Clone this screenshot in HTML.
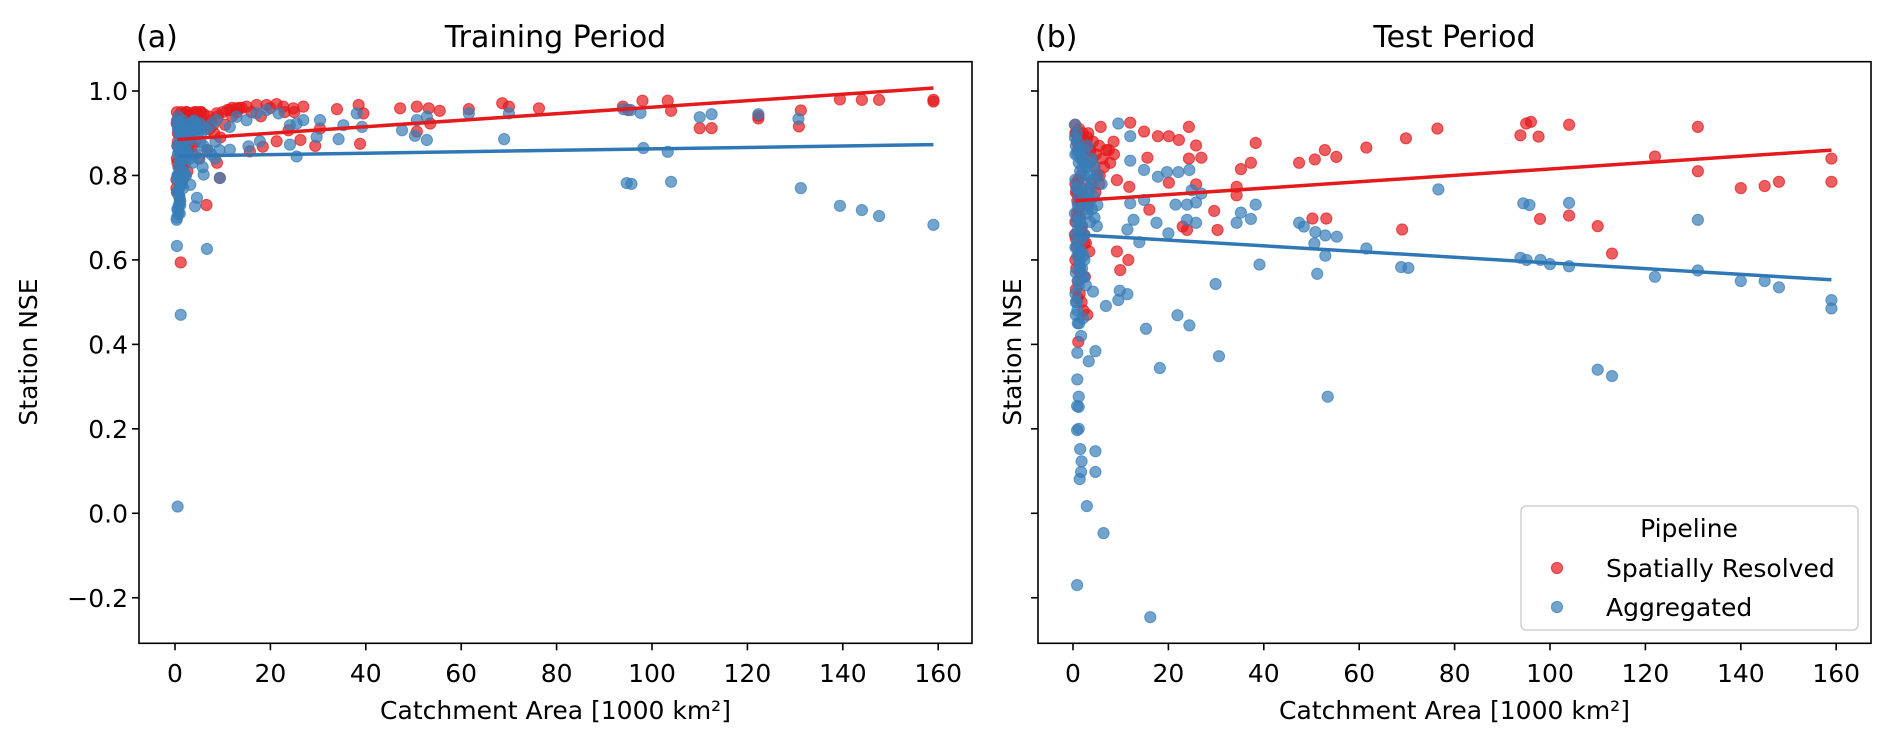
<!DOCTYPE html>
<html><head><meta charset="utf-8"><style>
html,body{margin:0;padding:0;background:#fff;}
svg{display:block;font-family:"DejaVu Sans","Liberation Sans",sans-serif;}
</style></head><body>
<svg id="fig" width="1892" height="742" viewBox="0 0 1892 742" xmlns="http://www.w3.org/2000/svg"></svg>
<script>
// ---- data (area in 1000 km², NSE) ----
const xTicks=[0,20,40,60,80,100,120,140,160];
const yTicks=[-0.2,0.0,0.2,0.4,0.6,0.8,1.0];
const yTickLabels=["\u22120.2","0.0","0.2","0.4","0.6","0.8","1.0"];
const trendX=[0.5,159];
const trainRedTrend=[0.885,1.007];
const trainBlueTrend=[0.846,0.873];
const testRedTrend=[0.74,0.86];
const testBlueTrend=[0.66,0.553];

const trainRedX=[159,159,147.6,144,139.4,131.2,130.8,122.3,122.3,112.5,110,104,103.3,98,93.9,95,76.3,70,68.6,61.6,55.5,53.2,50.7,47.2,38.5,33.95,26.9,24.8,22.7,21.3,19.2,17.1,15,12.9,11.5,8.75,5.25,3.85,1.75,0.35,38.8,29.4,18.4,21.3,30.4,15.7,9.4,6.6,39.5,50.7,53.5,23.8,26.3,1.2,0.5,0.8,1.0,1.5,2.0,2.5,3.0,3.5,4.0,4.5,5.0,5.5,6.0,0.6,1.2,1.8,2.2,2.8,3.3,0.4,0.9,1.4,2.1,3.6,4.2,0.7,1.1,1.6,2.4,0.3,0.6,7,7.5,8,9,10,11,12,13,14,
 0.4,0.7,1.0,1.3,1.7,2.3,2.9,3.4,4.1,4.8,5.6,6.3,7.2,8.2,9.5,10.5,12,13.5,16,18,20,23,25,0.5,1.1,1.9,2.7,3.8,5.1,6.8,8.8,0.3,0.8,1.5,2.6,0.4,0.9,1.6,0.5,1.2];
const trainRedY=[0.979,0.975,0.979,0.979,0.98,0.954,0.916,0.941,0.935,0.912,0.912,0.953,0.977,0.977,0.963,0.955,0.959,0.963,0.971,0.957,0.953,0.959,0.963,0.959,0.967,0.957,0.963,0.959,0.963,0.969,0.967,0.967,0.963,0.959,0.955,0.947,0.95,0.947,0.939,0.923,0.875,0.87,0.868,0.881,0.911,0.857,0.794,0.73,0.947,0.904,0.923,0.907,0.884,0.594,0.93,0.91,0.9,0.94,0.945,0.95,0.93,0.92,0.94,0.95,0.94,0.95,0.945,0.88,0.86,0.87,0.89,0.9,0.91,0.84,0.82,0.85,0.83,0.87,0.88,0.8,0.78,0.81,0.85,0.77,0.9,0.94,0.93,0.92,0.94,0.95,0.955,0.96,0.95,0.96,
 0.95,0.94,0.93,0.95,0.94,0.95,0.94,0.93,0.95,0.94,0.93,0.92,0.91,0.9,0.89,0.92,0.94,0.96,0.95,0.94,0.96,0.95,0.95,0.87,0.86,0.88,0.86,0.85,0.84,0.86,0.83,0.79,0.8,0.82,0.81,0.76,0.75,0.79,0.83,0.84];

const trainBlueX=[94,95.5,97.6,110,112.5,122.3,130.7,98.2,103.3,94.7,95.7,104,131.2,139.4,144,147.6,159,0.7,3.8,5.25,8.75,11.5,12.9,15,17.1,19.2,21.7,24.1,25.5,26.9,30.4,35.3,38.1,39.2,47.6,50.7,52.8,61.6,70,69,52.8,50.3,34.3,29.7,25.5,24.1,17.8,15.4,11.5,9.4,6,3.2,4.6,4.2,0.35,1,0.4,6.7,1.2,0.55,0.5,0.8,1.0,1.3,1.6,2.0,2.4,2.8,3.2,3.6,4.0,4.5,5.0,0.6,0.9,1.2,1.5,1.9,2.3,2.7,0.5,0.7,1.0,1.4,1.8,2.2,0.6,0.9,1.3,1.7,0.5,0.8,1.1,5.5,6.5,7.5,8.5,
 0.4,0.6,0.9,1.1,1.4,1.7,2.0,2.5,3.0,3.5,4.1,4.7,5.3,6.0,6.8,7.6,8.4,9.3,0.5,0.8,1.2,1.6,2.1,2.6,3.1,3.7,4.3,5.0,5.8,0.4,0.7,1.0,1.3,1.8,2.3,0.5,0.9,1.4,0.6,1.0,0.4,0.7,1.1];
const trainBlueY=[0.957,0.955,0.948,0.938,0.945,0.945,0.934,0.865,0.856,0.782,0.78,0.785,0.77,0.728,0.718,0.704,0.683,0.939,0.927,0.923,0.931,0.915,0.939,0.931,0.947,0.955,0.947,0.919,0.923,0.931,0.931,0.919,0.947,0.915,0.907,0.931,0.939,0.947,0.947,0.886,0.884,0.894,0.886,0.891,0.845,0.873,0.881,0.869,0.861,0.794,0.802,0.778,0.747,0.727,0.695,0.71,0.633,0.626,0.47,0.016,0.92,0.9,0.88,0.91,0.93,0.92,0.9,0.89,0.91,0.92,0.93,0.92,0.91,0.85,0.86,0.84,0.87,0.85,0.86,0.88,0.8,0.82,0.83,0.81,0.84,0.8,0.76,0.75,0.78,0.77,0.72,0.73,0.74,0.9,0.91,0.92,0.88,
 0.93,0.91,0.9,0.92,0.9,0.89,0.9,0.91,0.9,0.89,0.91,0.9,0.88,0.87,0.86,0.85,0.84,0.86,0.87,0.86,0.85,0.84,0.86,0.85,0.84,0.83,0.85,0.84,0.82,0.79,0.8,0.79,0.78,0.81,0.8,0.76,0.77,0.78,0.72,0.74,0.7,0.71,0.73];

const testRedX=[12,5.8,14.9,17.8,20.1,22.2,24.3,25.8,38.3,35.2,37.3,47.4,50.7,52.8,55.2,61.5,69.8,76.4,93.8,95,96,97.6,97.9,69,50.2,53.1,29.6,30.3,34.3,34.3,25.8,24.3,26.9,15.6,20.1,11.8,9.2,16,11.6,9.9,9.2,2.5,1.1,3,23,23.9,104,104,110,113,122,131,131,140,145,148,159,159,0.5,0.8,1.0,1.3,1.6,2.0,2.4,2.8,3.2,3.6,4.0,4.5,5.0,5.5,0.6,0.9,1.2,1.5,1.9,2.3,2.7,3.4,0.5,0.7,1.0,1.4,1.8,2.2,0.6,0.9,1.3,1.7,0.5,0.8,1.1,6.5,7.5,8.5,
 0.4,0.7,1.0,1.3,1.6,2.0,2.5,3.0,3.6,4.2,4.8,5.5,6.2,7.0,7.8,8.6,0.5,0.9,1.3,1.8,2.4,3.1,3.9,4.7,5.6,0.4,0.8,1.2,1.7,2.3,0.6,1.0,1.5];
const testRedY=[0.925,0.915,0.904,0.893,0.893,0.884,0.915,0.871,0.877,0.815,0.83,0.83,0.838,0.86,0.844,0.866,0.888,0.911,0.895,0.923,0.927,0.892,0.697,0.672,0.698,0.698,0.716,0.671,0.773,0.753,0.779,0.84,0.842,0.842,0.783,0.773,0.789,0.719,0.6,0.576,0.62,0.56,0.406,0.47,0.679,0.671,0.92,0.705,0.68,0.615,0.845,0.915,0.81,0.77,0.775,0.785,0.84,0.785,0.9,0.88,0.86,0.89,0.87,0.85,0.83,0.88,0.9,0.86,0.84,0.82,0.8,0.78,0.76,0.74,0.72,0.7,0.68,0.66,0.64,0.62,0.6,0.58,0.55,0.52,0.5,0.48,0.65,0.7,0.75,0.8,0.69,0.71,0.79,0.82,0.86,0.88,
 0.92,0.9,0.89,0.91,0.88,0.9,0.87,0.89,0.86,0.88,0.85,0.87,0.84,0.86,0.83,0.85,0.78,0.76,0.74,0.77,0.75,0.73,0.78,0.76,0.8,0.66,0.63,0.61,0.67,0.64,0.53,0.51,0.57];

const testBlueX=[9.5,12,12,14.9,17.8,19.7,22.1,24.4,24.9,26.9,25.8,23.9,21.5,12,14.9,12.7,17.5,11.4,13.9,20,23.9,25.8,34.3,35.2,37.3,38.3,39.1,47.4,48.4,50.6,50.8,52.9,52.9,55.3,51.2,61.5,68.8,70.3,76.6,94.4,95.7,93.8,95.1,98,29.9,30.6,24.4,21.9,15.3,18.2,53.4,6.9,9.5,9.8,11.4,4.2,4.7,3.3,0.9,0.9,1.2,1.2,1.2,2.1,0.86,0.86,1.5,4.7,1.8,1.7,4.7,1.4,2.9,6.4,0.86,16.2,104,110,113,122,131,131,140,145,148,159,159,100,104,0.5,0.8,1.0,1.3,1.6,2.0,2.4,2.8,3.2,3.6,4.0,4.5,5.0,0.6,0.9,1.2,1.5,1.9,2.3,2.7,0.5,0.7,1.0,1.4,1.8,2.2,0.6,0.9,1.3,1.7,3.0,3.5,4.2,
 0.4,0.6,0.9,1.2,1.5,1.9,2.3,2.8,3.3,3.9,4.5,5.2,6.0,0.5,0.8,1.1,1.5,2.0,2.5,3.1,3.7,4.4,5.1,0.4,0.7,1.0,1.4,1.9,2.4,3.0,3.6,0.5,0.9,1.3,1.8,2.4,0.6,1.0,1.5,2.1,0.5,0.8,1.2,0.6,1.0];
const testBlueY=[0.923,0.893,0.835,0.813,0.797,0.808,0.808,0.813,0.765,0.757,0.736,0.731,0.731,0.734,0.742,0.695,0.688,0.672,0.642,0.663,0.695,0.688,0.688,0.712,0.697,0.731,0.589,0.688,0.679,0.639,0.666,0.658,0.61,0.655,0.567,0.627,0.583,0.581,0.767,0.734,0.73,0.605,0.6,0.6,0.543,0.372,0.445,0.469,0.437,0.344,0.276,0.491,0.505,0.527,0.519,0.525,0.384,0.36,0.38,0.317,0.276,0.252,0.2,0.462,0.254,0.197,0.152,0.147,0.123,0.098,0.098,0.081,0.017,-0.047,-0.17,-0.246,0.735,0.34,0.325,0.56,0.695,0.575,0.55,0.55,0.535,0.505,0.485,0.59,0.585,0.92,0.9,0.88,0.86,0.84,0.82,0.8,0.78,0.76,0.74,0.72,0.7,0.68,0.66,0.64,0.62,0.6,0.58,0.56,0.54,0.85,0.77,0.73,0.69,0.65,0.61,0.5,0.48,0.45,0.42,0.87,0.83,0.79,
 0.89,0.87,0.85,0.83,0.81,0.84,0.86,0.82,0.8,0.84,0.82,0.8,0.78,0.79,0.77,0.75,0.73,0.76,0.74,0.72,0.77,0.75,0.73,0.71,0.69,0.67,0.7,0.68,0.66,0.71,0.69,0.63,0.61,0.59,0.62,0.6,0.57,0.55,0.58,0.56,0.52,0.5,0.54,0.47,0.45];

// ---- layout ----
const NS="http://www.w3.org/2000/svg";
const svg=document.getElementById('fig');
const Y0=513.3, YS=422.3, TOP=61.7, BOT=643.3;
function yPix(v){return Y0-v*YS;}
function mk(tag,attrs,parent){const e=document.createElementNS(NS,tag);for(const k in attrs)e.setAttribute(k,attrs[k]);(parent||svg).appendChild(e);return e;}
const RED="rgba(228,26,28,0.7)", BLUE="rgba(55,126,184,0.7)";

function panel(opt){
  const g=mk('g',{});
  
  
  const xPix=v=>opt.x0+v*4.77;
  const series=[[opt.rx,opt.ry,RED,'spatially-resolved'],[opt.bx,opt.by,BLUE,'aggregated']];
  for(const [xs,ys,col,nm] of series){
    const sg=mk('g',{},g);
    
    
    for(let i=0;i<xs.length;i++){
      const c=mk('circle',{cx:xPix(xs[i]),cy:yPix(ys[i]),r:5.6,fill:col,stroke:col,'stroke-width':1},sg);
      
      
    }
  }
  const l1=mk('line',{x1:xPix(trendX[0]),y1:yPix(opt.rt[0]),x2:xPix(trendX[1]),y2:yPix(opt.rt[1]),stroke:'#e41a1c','stroke-width':3.5},g);
  
  
  const l2=mk('line',{x1:xPix(trendX[0]),y1:yPix(opt.bt[0]),x2:xPix(trendX[1]),y2:yPix(opt.bt[1]),stroke:'#2f78b5','stroke-width':3.5},g);
  
  
  const fr=mk('rect',{x:opt.L,y:TOP,width:opt.R-opt.L,height:BOT-TOP,fill:'none',stroke:'#000','stroke-width':1.6},g);
  
  
  for(const t of xTicks){
    const x=xPix(t);
    mk('line',{x1:x,y1:BOT,x2:x,y2:BOT+7,stroke:'#000','stroke-width':1.6},g);
    const tx=mk('text',{x:x,y:682,'text-anchor':'middle','font-size':25},g);
    tx.textContent=t;
    
    
  }
  for(let i=0;i<yTicks.length;i++){
    const y=yPix(yTicks[i]);
    mk('line',{x1:opt.L-7,y1:y,x2:opt.L,y2:y,stroke:'#000','stroke-width':1.6},g);
    if(opt.ylabels){
      const ty=mk('text',{x:opt.L-11,y:y+9,'text-anchor':'end','font-size':25},g);
      ty.textContent=yTickLabels[i];
      
      
    }
  }
  const xl=mk('text',{x:(opt.L+opt.R)/2,y:719,'text-anchor':'middle','font-size':25},g);
  xl.textContent='Catchment Area [1000 km\u00b2]';
  
  
  const yl=mk('text',{x:0,y:0,'text-anchor':'middle','font-size':25,transform:`translate(${opt.ylx},352) rotate(-90)`},g);
  yl.textContent='Station NSE';
  
  
  const ti=mk('text',{x:(opt.L+opt.R)/2,y:47,'text-anchor':'middle','font-size':30},g);
  ti.textContent=opt.title;
  
  
  const lb=mk('text',{x:opt.L-3,y:47,'font-size':30},g);
  lb.textContent=opt.tag;
  
  
}
panel({name:'training-panel',L:139,R:972,x0:175,rx:trainRedX,ry:trainRedY,bx:trainBlueX,by:trainBlueY,rt:trainRedTrend,bt:trainBlueTrend,ylabels:true,ylx:37,title:'Training Period',tag:'(a)'});
panel({name:'test-panel',L:1038,R:1871,x0:1073,rx:testRedX,ry:testRedY,bx:testBlueX,by:testBlueY,rt:testRedTrend,bt:testBlueTrend,ylabels:false,ylx:1021,title:'Test Period',tag:'(b)'});

const lg=mk('g',{});


mk('rect',{x:1521,y:506,width:337,height:124,rx:5,fill:'rgba(255,255,255,0.8)',stroke:'#d0d0d0','stroke-width':1.5},lg);
const lt=mk('text',{x:1689,y:537,'text-anchor':'middle','font-size':25},lg);
lt.textContent='Pipeline';


const entries=[['Spatially Resolved',RED,568],['Aggregated',BLUE,607]];
for(const [t,c,y] of entries){
  const e=mk('g',{},lg);
  
  
  mk('circle',{cx:1557,cy:y,r:5.6,fill:c,stroke:c},e);
  const tx=mk('text',{x:1606,y:y+9,'font-size':25},e);
  tx.textContent=t;
}
</script>
</body></html>
